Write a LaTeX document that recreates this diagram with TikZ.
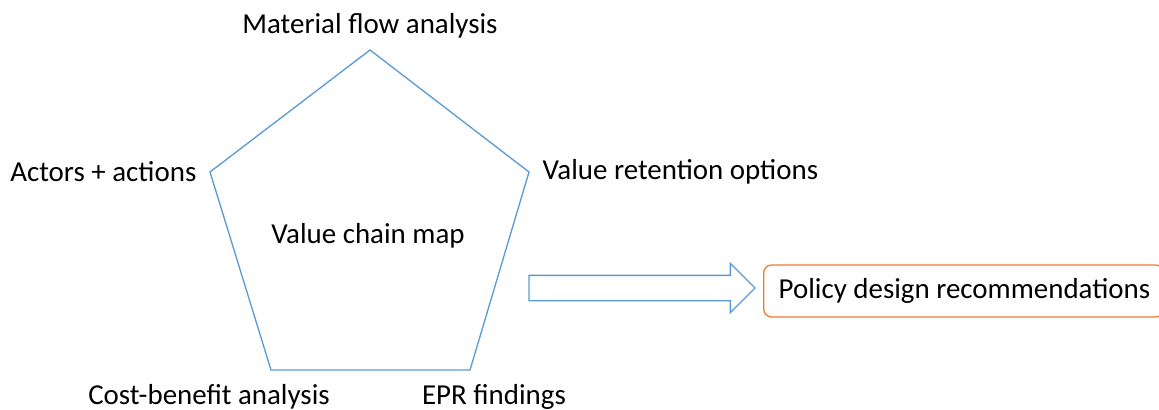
\documentclass[tikz,border=0pt]{standalone}
\usepackage{fontspec}
\setmainfont{Carlito}
\usepackage{tikz}
\usetikzlibrary{shapes.arrows}

\definecolor{pentblue}{RGB}{91,155,213}
\definecolor{boxorange}{RGB}{237,125,49}

\begin{document}
\begin{tikzpicture}[x=0.75pt,y=-0.75pt
	,line width=1pt
	,font=\fontsize{21.7}{25}\selectfont]
  \tikzstyle{lbl}=[inner sep=0pt,text=black]
  \tikzstyle{blockarrow}=[single arrow,draw=pentblue,minimum height=169.5pt
    ,inner xsep=0pt,inner ysep=9pt,single arrow head extend=9pt,outer sep=0pt]
  \tikzstyle{policy}=[draw=boxorange,rounded corners=6pt,minimum height=39pt
    ,minimum width=300pt,inner sep=0pt]

  \useasboundingbox (0,0) rectangle (1159,410);

  % corners of the pentagon
  \coordinate (ptop) at (370,50);
  \coordinate (pright) at (529,172);
  \coordinate (pbr) at (470,370);
  \coordinate (pbl) at (271,370);
  \coordinate (pleft) at (210,172);
  \draw [pentblue] (ptop) -- (pright) -- (pbr) -- (pbl) -- (pleft) -- cycle;

  % labels round the pentagon
  \node[lbl] (mfa) at (370,26) {Material flow analysis};
  \node[lbl,anchor=east] (actors) at (197,172) {Actors + actions};
  \node[lbl,anchor=west] (vro) at (542,172) {Value retention options};
  \node[lbl] (vcm) at (368,236) {Value chain map};
  \node[lbl] (cba) at (209,397) {Cost-benefit analysis};
  \node[lbl] (epr) at (494,397) {EPR findings};

  % block arrow into the recommendation box
  \node[blockarrow,anchor=tail] (arr) at (529,288) {};
  \node[policy,anchor=west] (pdr) at (763,291) {};
  \node[lbl,anchor=west] (pdrtext) at (778,291) {Policy design recommendations};
\end{tikzpicture}
\end{document}
